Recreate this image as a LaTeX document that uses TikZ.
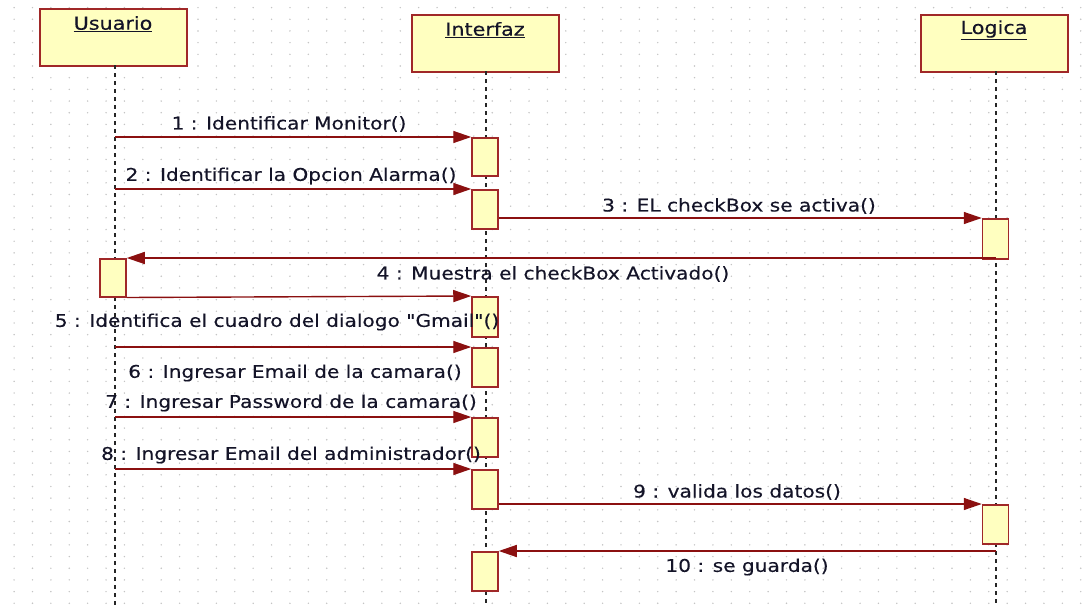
\documentclass[tikz,border=0pt]{standalone}
\usepackage{fontspec}
\setmainfont{DejaVu Sans}
\newfontfamily\lblfont[FakeStretch=1.15,FakeBold=0.3]{DejaVu Sans}
\usetikzlibrary{arrows.meta}
\definecolor{boxfill}{HTML}{FFFFC0}
\definecolor{boxdraw}{HTML}{A02828}
\definecolor{msgc}{HTML}{8B1010}
\definecolor{txtc}{HTML}{141428}
\definecolor{dotc}{HTML}{C4C4C4}
\begin{document}
\begin{tikzpicture}[x=1pt,y=-1pt,
  objbox/.style={draw=boxdraw,fill=boxfill,line width=2pt,minimum width=147pt,minimum height=57pt,anchor=north west,inner sep=0pt},
  actbox/.style={draw=boxdraw,fill=boxfill,line width=1.5pt,minimum width=26pt,anchor=north,inner sep=0pt},
  lifeline/.style={draw=black!85,line width=2pt,dash pattern=on 4pt off 4pt},
  msg/.style={draw=msgc,line width=1.4pt,-{Triangle[length=18pt,width=12pt]}},
  lbl/.style={text=txtc,font=\lblfont\fontsize{17.5}{20}\selectfont,inner sep=0pt},
  hdr/.style={text=txtc,font=\lblfont\fontsize{18}{20}\selectfont,inner sep=0pt}
]
\useasboundingbox (0,0) rectangle (1089,605);
\fill[white] (0,0) rectangle (1089,605);
% grid of dots
\foreach \i in {0,...,58}{
  \foreach \j in {0,...,51}{
    \fill[dotc] ({14.1+18.39*\i},{7.6+11.68*\j}) circle (0.8pt);
  }
}
% object boxes
\node[objbox] (usuario) at (39,8) {};
\node[objbox] (interfaz) at (411,14) {};
\node[objbox] (logica) at (920,14) {};
\node[hdr] (usuarioT) at (113,24) {\underline{Usuario}};
\node[hdr] (interfazT) at (485,30) {\underline{Interfaz}};
\node[hdr] (logicaT) at (994,30) {\underline{Logica}};
% lifeline end points
\coordinate (uEnd) at (115,605);
\coordinate (iEnd) at (486,605);
\coordinate (lEnd) at (996,605);
\draw[lifeline] (115,65) -- (uEnd);
\draw[lifeline] (486,71) -- (iEnd);
\draw[lifeline] (996,71) -- (lEnd);
% activation boxes
\node[actbox,minimum height=38pt] (a1) at (485,137) {};
\node[actbox,minimum height=39pt] (a2) at (485,189) {};
\node[actbox,minimum height=40pt] (l1) at (995.5,218) {};
\node[actbox,minimum height=38pt] (u1) at (113,258) {};
\node[actbox,minimum height=40pt] (a3) at (485,296) {};
\node[actbox,minimum height=39pt] (a4) at (485,347) {};
\node[actbox,minimum height=39pt] (a5) at (485,417) {};
\node[actbox,minimum height=39pt] (a6) at (485,469) {};
\node[actbox,minimum height=39pt] (l2) at (995.5,504) {};
\node[actbox,minimum height=39pt] (a7) at (485,551) {};
% message start points on lifelines
\coordinate (s1) at (115,137);
\coordinate (s2) at (115,189);
\coordinate (s4) at (996,258);
\coordinate (s6) at (115,347);
\coordinate (s7) at (115,417);
\coordinate (s8) at (115,469);
\coordinate (s10) at (996,551);
% messages
\draw[msg] (s1) -- (a1.north west);
\draw[msg] (s2) -- (a2.north west);
\draw[msg] (a2.east |- l1.north) -- (l1.north west);
\draw[msg] (s4) -- (u1.north east);
\draw[msg] (u1.south east) -- (a3.north west);
\draw[msg] (s6) -- (a4.north west);
\draw[msg] (s7) -- (a5.north west);
\draw[msg] (s8) -- (a6.north west);
\draw[msg] (a6.east |- l2.north) -- (l2.north west);
\draw[msg] (s10) -- (a7.north east);
% labels
\node[lbl] (t1) at (289,124) {1 : Identificar Monitor()};
\node[lbl] (t2) at (291,176) {2 : Identificar la Opcion Alarma()};
\node[lbl] (t3) at (739,206) {3 : EL checkBox se activa()};
\node[lbl] (t4) at (553,274) {4 : Muestra el checkBox Activado()};
\node[lbl] (t5) at (277,322) {5 : Identifica el cuadro del dialogo \symbol{34}Gmail\symbol{34}()};
\node[lbl] (t6) at (295,373) {6 : Ingresar Email de la camara()};
\node[lbl] (t7) at (291,403) {7 : Ingresar Password de la camara()};
\node[lbl] (t8) at (291,455) {8 : Ingresar Email del administrador()};
\node[lbl] (t9) at (737,492) {9 : valida los datos()};
\node[lbl] (t10) at (747,567) {10 : se guarda()};
\end{tikzpicture}
\end{document}
